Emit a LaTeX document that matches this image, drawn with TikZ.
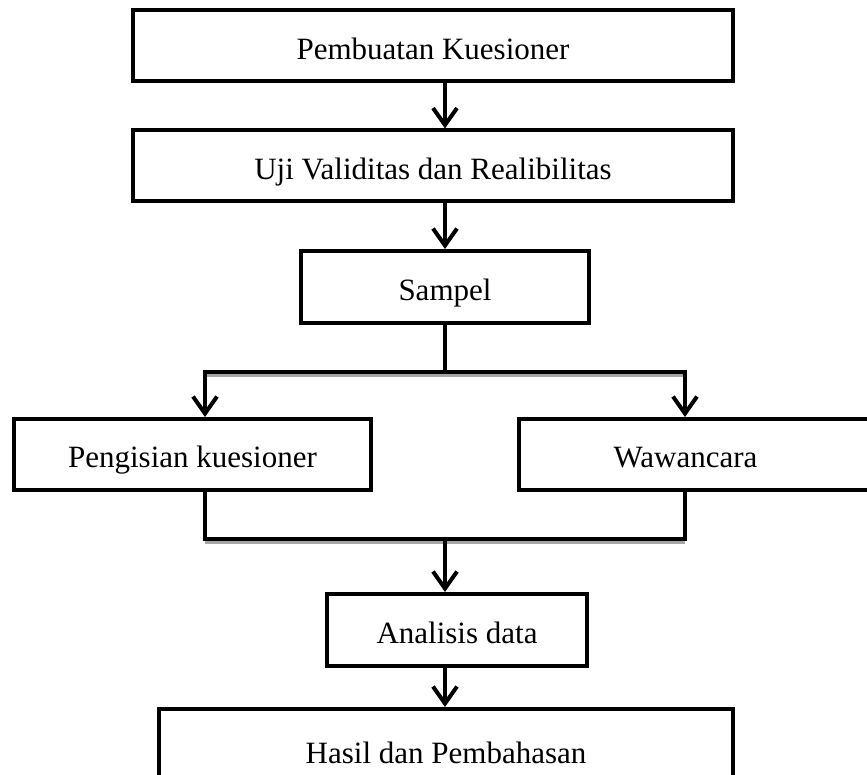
\documentclass[tikz,border=0pt]{standalone}
\usepackage{fontspec}
\setmainfont{Liberation Serif}
\usetikzlibrary{arrows.meta,shadows}
\tikzset{
  box/.style={draw, line width=4pt, fill=white, minimum height=71pt, inner sep=0pt,
    font=\fontsize{31}{36}\selectfont, text height=28pt, text depth=1.2pt,
    drop shadow={shadow xshift=1.5pt, shadow yshift=-1.5pt, fill=gray, opacity=0.6}},
  bar/.style={line width=4pt, line join=miter},
  arr/.style={bar, -{Straight Barb[length=17pt,width=24pt]}},
  shade/.style={line width=3pt, gray!70, transform canvas={yshift=-3pt}}
}
\begin{document}
\begin{tikzpicture}[x=1pt, y=-1pt]
    \useasboundingbox (0,0) rectangle (867,775);
    \coordinate (ax) at (445,0); \coordinate (lx) at (205,0); \coordinate (rx) at (685,0);
    \coordinate (split) at (445,372); \coordinate (join) at (445,539);

    \node[box, minimum width=600pt] (buat) at (433,46) {Pembuatan Kuesioner};
    \node[box, minimum width=600pt] (uji) at (433,166) {Uji Validitas dan Realibilitas};
    \node[box, minimum width=288pt, minimum height=72pt] (sampel) at (445,287) {Sampel};
    \node[box, minimum width=357pt] (isi) at (192.5,454.5) {Pengisian kuesioner};
    \node[box, minimum width=361pt] (wawan) at (699.5,454.5) {\hspace*{-28pt}Wawancara};
    \node[box, minimum width=260pt, minimum height=72pt] (analisis) at (457,630) {Analisis data};
    \node[box, minimum width=574pt, minimum height=82pt] (hasil) at (446,750) {Hasil dan Pembahasan};

    \draw[arr] (buat.south -| ax) -- (uji.north -| ax);
    \draw[arr] (uji.south -| ax) -- (sampel.north -| ax);

    % bercabang ke kuesioner dan wawancara
    \draw[shade] (split -| lx) -- (split -| rx);
    \draw[bar] (sampel.south -| ax) -- (split);
    \draw[arr] (split) -| (isi.north -| lx);
    \draw[arr] (split) -| (wawan.north -| rx);

    % bergabung lagi
    \draw[shade] (join -| lx) -- (join -| rx);
    \draw[bar] (isi.south -| lx) |- (join) -| (wawan.south -| rx);
    \draw[arr] (join) -- (analisis.north -| ax);
    \draw[arr] (analisis.south -| ax) -- (hasil.north -| ax);
\end{tikzpicture}
\end{document}
